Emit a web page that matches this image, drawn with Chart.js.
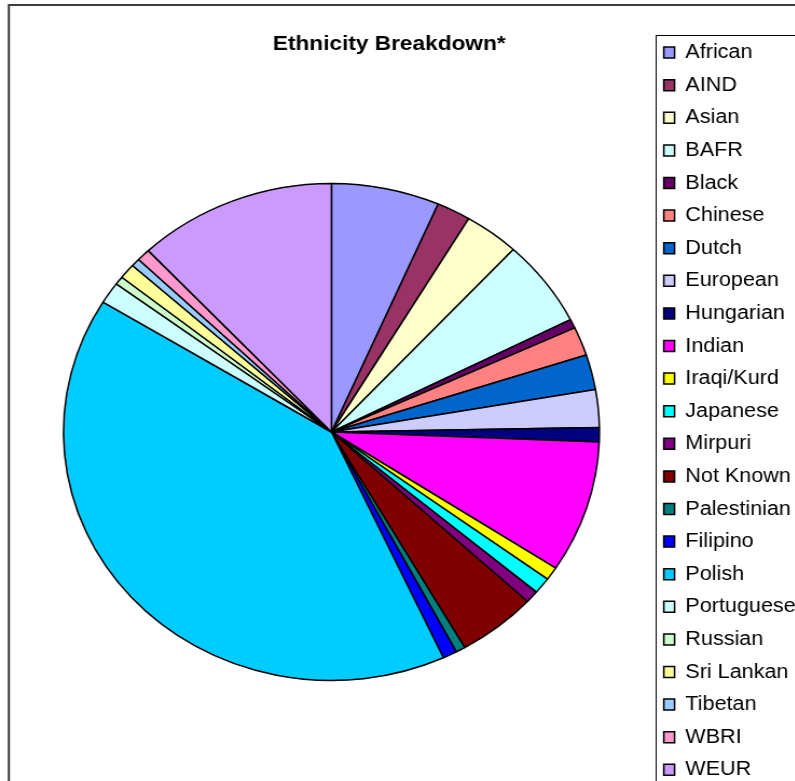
<!DOCTYPE html>
<html>
<head>
<meta charset="utf-8">
<script src="https://cdn.jsdelivr.net/npm/chart.js@4.4.0/dist/chart.umd.min.js"></script>
<style>
  html, body { margin: 0; padding: 0; background: #fff; overflow: hidden; width: 795px; height: 781px; }
  /* the original picture is stretched sideways, so the canvas is too */
  #wrap { position: absolute; left: 0; top: 0; width: 743px; height: 834px; transform: scaleX(1.0783); transform-origin: 0 0; }
</style>
</head>
<body>
<div id="wrap"><canvas id="pie" width="743" height="834"></canvas></div>
<script>
const TITLE = "Ethnicity Breakdown*";

const groups = ["African", "AIND", "Asian", "BAFR", "Black", "Chinese", "Dutch", "European",
  "Hungarian", "Indian", "Iraqi/Kurd", "Japanese", "Mirpuri", "Not Known", "Palestinian",
  "Filipino", "Polish", "Portuguese", "Russian", "Sri Lankan", "Tibetan", "WBRI", "WEUR"];

// share of pupils, %
const shares = [6.52, 2.04, 3.31, 5.66, 0.59, 1.87, 2.27, 2.45,
  0.93, 8.58, 0.86, 1.06, 0.80, 4.77, 0.57,
  0.86, 40.61, 1.41, 0.54, 0.98, 0.53, 0.81, 11.98];

const colours = ["#9999FF", "#993366", "#FFFFCC", "#CCFFFF", "#660066", "#FF8080", "#0066CC", "#CCCCFF",
  "#000080", "#FF00FF", "#FFFF00", "#00FFFF", "#800080", "#800000", "#008080",
  "#0000FF", "#00CCFF", "#CCFFFF", "#CCFFCC", "#FFFF99", "#99CCFF", "#FF99CC", "#CC99FF"];

const FONT = "'Liberation Sans', Arial, sans-serif";

// outer frame, legend frame and the title, drawn under the chart
const excelBits = {
  id: "excelBits",
  beforeDraw(chart) {
    const ctx = chart.ctx;
    ctx.save();
    ctx.fillStyle = "#fff";
    ctx.fillRect(0, 0, chart.width, chart.height);
    ctx.strokeStyle = "#3c3c3c";
    ctx.lineWidth = 2;
    ctx.strokeRect(8.2, 5, 2000, 2000);
    ctx.strokeStyle = "#000";
    ctx.lineWidth = 1;
    ctx.strokeRect(608.5, 35.5, 2000, 2000);
    ctx.fillStyle = "#000";
    ctx.font = "bold 21px " + FONT;
    ctx.textBaseline = "alphabetic";
    ctx.textAlign = "left";
    ctx.fillText(TITLE, 253, 50);
    ctx.restore();
  }
};

new Chart(document.getElementById("pie"), {
  type: "pie",
  data: {
    labels: groups,
    datasets: [{
      data: shares,
      backgroundColor: colours,
      borderColor: "#000",
      borderWidth: 1.5,
      radius: 248.5
    }]
  },
  options: {
    responsive: false,
    animation: false,
    layout: { padding: { left: 11.8, top: 30, right: 0, bottom: 0 } },
    plugins: {
      title: { display: false },
      tooltip: { enabled: false },
      legend: {
        position: "right",
        align: "start",
        maxWidth: 140,
        labels: {
          boxWidth: 10,
          boxHeight: 11,
          padding: 12.6,
          color: "#000",
          font: { size: 20, family: FONT }
        }
      }
    }
  },
  plugins: [excelBits]
});
</script>
</body>
</html>
